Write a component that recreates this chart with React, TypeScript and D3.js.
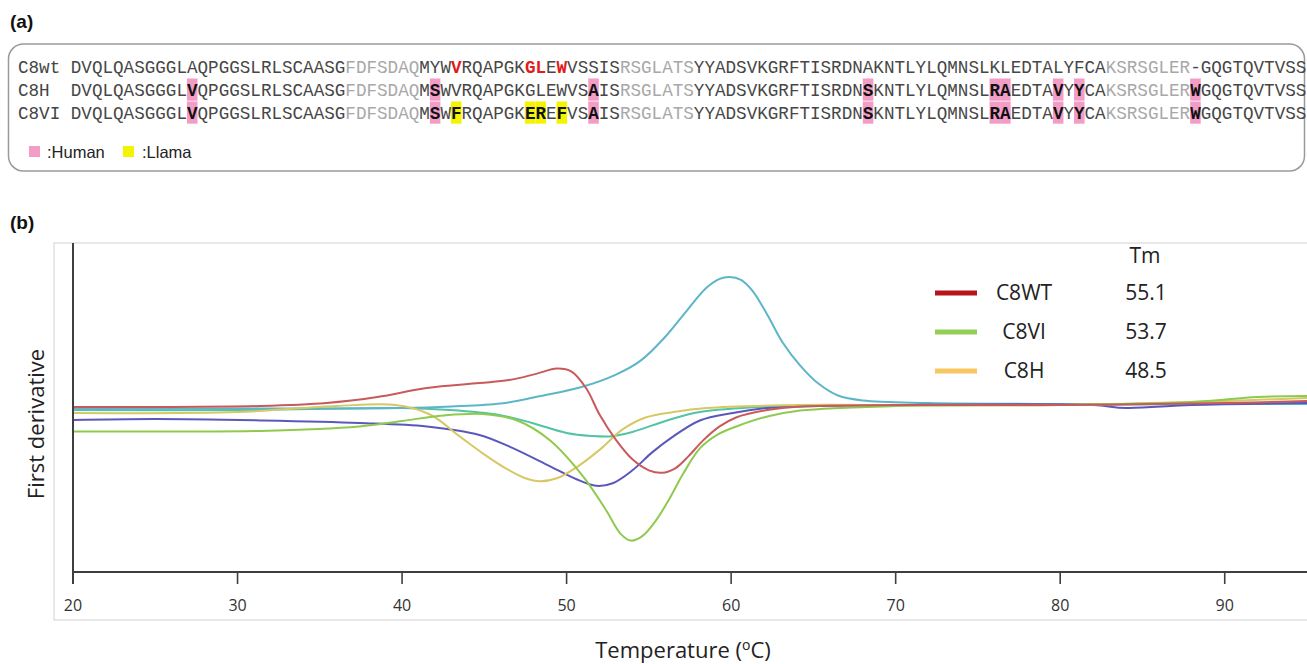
import React from 'react';
import * as d3 from 'd3';

const W = 1307;
const H = 664;

// ---------- Panel (a) data ----------
const seqLabels = ['C8wt', 'C8H', 'C8VI'];
const seqWT = 'DVQLQASGGGLAQPGGSLRLSCAASGFDFSDAQMYWVRQAPGKGLEWVSSISRSGLATSYYADSVKGRFTISRDNAKNTLYLQMNSLKLEDTALYFCAKSRSGLER-GQGTQVTVSS';
const seqH = 'DVQLQASGGGLVQPGGSLRLSCAASGFDFSDAQMSWVRQAPGKGLEWVSAISRSGLATSYYADSVKGRFTISRDNSKNTLYLQMNSLRAEDTAVYYCAKSRSGLERWGQGTQVTVSS';
const seqVI = 'DVQLQASGGGLVQPGGSLRLSCAASGFDFSDAQMSWFRQAPGKEREFVSAISRSGLATSYYADSVKGRFTISRDNSKNTLYLQMNSLRAEDTAVYYCAKSRSGLERWGQGTQVTVSS';
const greyRanges: [number, number][] = [[26, 32], [52, 58], [98, 105]];
const redWT = [36, 43, 44, 46];
const humanPos = [11, 34, 49, 75, 87, 88, 93, 95, 106];
const llamaPosVI = [36, 43, 44, 46];
const legendA = [':Human', ':Llama'];

// ---------- Panel (b) data: [temperature °C, first derivative (a.u.)] ----------
const c8wt: [number, number][] = [
  [20, 0.005], [25, 0.005], [31.4, 0.015], [35.4, 0.045], [38.5, 0.105], [41.5, 0.195],
  [44.7, 0.245], [46.5, 0.275], [48.2, 0.34], [49.4, 0.39], [50.3, 0.36], [51.2, 0.19],
  [52, -0.07], [53, -0.325], [54, -0.52], [55, -0.63], [55.8, -0.655], [56.6, -0.61],
  [57.4, -0.49], [58.3, -0.33], [59.3, -0.19], [60.3, -0.1], [62.2, -0.025], [64.2, 0.01],
  [70, 0.025], [80, 0.025], [90, 0.045], [95, 0.065],
];
const c8vi: [number, number][] = [
  [20, -0.24], [25, -0.24], [31.4, -0.235], [37.4, -0.19], [40, -0.135], [42.5, -0.08],
  [44.9, -0.065], [47, -0.13], [49, -0.33], [51, -0.69], [52.4, -1.03], [53.3, -1.27],
  [53.9, -1.335], [54.6, -1.29], [55.4, -1.14], [56.2, -0.93], [57.1, -0.66], [58.1, -0.41],
  [59.2, -0.27], [60.4, -0.185], [62.2, -0.09], [64.2, -0.03], [70, 0.015], [80, 0.025],
  [88, 0.055], [92, 0.105], [95, 0.115],
];
const c8h: [number, number][] = [
  [20, -0.055], [30, -0.045], [36, 0.015], [39.6, 0.025], [41.7, -0.07], [43.5, -0.29],
  [44.9, -0.46], [46.3, -0.61], [47.5, -0.71], [48.4, -0.74], [49.4, -0.71], [50.6, -0.6],
  [52, -0.425], [53.4, -0.22], [54.8, -0.1], [56.5, -0.045], [58.5, -0.005], [64.2, 0.025],
  [70, 0.025], [80, 0.025], [90, 0.065], [95, 0.095],
];
const cyanSeries: [number, number][] = [
  [20, -0.015], [30, -0.01], [40, -0.005], [43, 0.01], [46, 0.04], [48, 0.1], [51, 0.21],
  [53, 0.33], [54.5, 0.47], [56, 0.71], [57.3, 0.97], [58.5, 1.2], [59.3, 1.29], [59.9, 1.31],
  [60.6, 1.28], [61.3, 1.17], [62.2, 0.93], [63.1, 0.66], [64.2, 0.42], [65.3, 0.24],
  [66.5, 0.12], [68, 0.07], [72, 0.045], [80, 0.035], [90, 0.035], [95, 0.035],
];
const purpleSeries: [number, number][] = [
  [20, -0.125], [25, -0.115], [31.4, -0.13], [37.4, -0.155], [41.5, -0.19], [44.7, -0.275],
  [46.5, -0.39], [49, -0.59], [50.6, -0.72], [51.8, -0.785], [52.8, -0.76], [54, -0.63],
  [55.2, -0.45], [56.4, -0.3], [58.1, -0.13], [60.1, -0.055], [62.2, -0.005], [64.2, 0.01],
  [70, 0.025], [82, 0.025], [84, -0.005], [88, 0.025], [95, 0.045],
];
const tealSeries: [number, number][] = [
  [20, -0.025], [30, -0.025], [40, -0.005], [42.9, -0.025], [45.9, -0.075], [47.9, -0.155],
  [50, -0.255], [51.5, -0.285], [52.6, -0.29], [54, -0.245], [56.1, -0.13], [58.1, -0.045],
  [62.2, 0.01], [70, 0.025], [80, 0.025], [95, 0.045],
];

const seriesList = [
  { name: 'teal', data: tealSeries, color: '#52c3a6' },
  { name: 'cyan', data: cyanSeries, color: '#5cb6c6' },
  { name: 'purple', data: purpleSeries, color: '#5a58bb' },
  { name: 'C8H', data: c8h, color: '#d6c865' },
  { name: 'C8VI', data: c8vi, color: '#8fca4e' },
  { name: 'C8WT', data: c8wt, color: '#c85a5c' },
];

const legendNames = ['C8WT', 'C8VI', 'C8H'];
const legendTm = ['55.1', '53.7', '48.5'];
const legendColors = ['#b8141c', '#92cf55', '#f8c762'];
const xTicks = [20, 30, 40, 50, 60, 70, 80, 90];

export default function App() {
  // ---- panel (a) scales ----
  const cw = 10.56;
  const charX = d3.scaleLinear().domain([0, 1]).range([18, 18 + cw]);
  const seqStart = 5; // label column width in characters
  const rowY = d3.scalePoint<number>().domain([0, 1, 2]).range([67, 113]);
  const seqs = [seqWT, seqH, seqVI];
  const isGrey = (i: number) => greyRanges.some(([a, b]) => i >= a && i <= b);

  // ---- panel (b) scales ----
  const x = d3.scaleLinear().domain([20, 95]).range([73, 1307]);
  const y = d3.scaleLinear().domain([-1.65, 1.65]).range([572, 243]);
  const line = d3
    .line<[number, number]>()
    .x((d) => x(d[0]))
    .y((d) => y(d[1]))
    .curve(d3.curveCatmullRom.alpha(0.5));

  const cellH = 23;
  const legendRowY = d3.scalePoint<number>().domain([0, 1, 2]).range([293, 371]);

  return (
    <svg width={W} height={H} style={{ position: 'absolute', left: 0, top: 0, background: '#fff' }}>
      <rect x={0} y={0} width={W} height={H} fill="#fff" />
      {/* ---------------- (a) ---------------- */}
      <text x={10} y={28} fontFamily="Liberation Sans, Arial, sans-serif" fontWeight="bold" fontSize={19} fill="#111">(a)</text>
      <rect x={8.5} y={44} width={1296} height={127} rx={15} ry={15} fill="none" stroke="#9a9a9a" strokeWidth={1.5} />

      {/* highlight cells */}
      {[1, 2].map((r) =>
        humanPos.map((p) => (
          <rect key={`h${r}-${p}`} x={charX(seqStart + p)} y={rowY(r)! - cellH / 2} width={cw} height={cellH - 0.8} fill="#f39cc6" />
        ))
      )}
      {llamaPosVI.map((p) => (
        <rect key={`l-${p}`} x={charX(seqStart + p)} y={rowY(2)! - cellH / 2} width={cw} height={cellH - 0.8} fill="#f4f400" />
      ))}

      {seqs.map((s, r) => (
        <g key={`row${r}`} fontFamily="Liberation Mono, Courier New, monospace" fontSize={17.6}>
          <text x={charX(0)} y={rowY(r)} dy="0.36em" fill="#444">{seqLabels[r]}</text>
          {s.split('').map((ch, i) => {
            const isRed = r === 0 && redWT.includes(i);
            const isHum = r > 0 && humanPos.includes(i);
            const isLl = r === 2 && llamaPosVI.includes(i);
            const bold = isRed || isHum || isLl;
            const fill = isRed ? '#e21b1b' : bold ? '#111' : isGrey(i) ? '#a8a8a8' : '#474747';
            return (
              <text
                key={i}
                x={charX(seqStart + i + 0.5)}
                y={rowY(r)}
                dy="0.36em"
                textAnchor="middle"
                fill={fill}
                fontWeight={bold ? 'bold' : 'normal'}
              >
                {ch}
              </text>
            );
          })}
        </g>
      ))}

      {/* legend (a) */}
      <rect x={29} y={146} width={11} height={11} fill="#f39cc6" />
      <text x={47} y={158} fontFamily="Liberation Sans, Arial, sans-serif" fontSize={16.5} fill="#222">{legendA[0]}</text>
      <rect x={123} y={146} width={11} height={11} fill="#f4f400" />
      <text x={142} y={158} fontFamily="Liberation Sans, Arial, sans-serif" fontSize={16.5} fill="#222">{legendA[1]}</text>

      {/* ---------------- (b) ---------------- */}
      <text x={10} y={229} fontFamily="Liberation Sans, Arial, sans-serif" fontWeight="bold" fontSize={19} fill="#111">(b)</text>
      <rect x={54} y={243} width={1270} height={377} fill="none" stroke="#d9d9d9" strokeWidth={1.2} />

      {/* curves */}
      {seriesList.map((s) => (
        <path key={s.name} d={line(s.data) || ''} fill="none" stroke={s.color} strokeWidth={2} />
      ))}

      {/* axes */}
      <line x1={x(20)} x2={x(20)} y1={243} y2={584} stroke="#3f3f3f" strokeWidth={2} />
      <line x1={x(20)} x2={x(95)} y1={572} y2={572} stroke="#3f3f3f" strokeWidth={2} />
      {xTicks.map((t) => (
        <g key={t}>
          <line x1={x(t)} x2={x(t)} y1={572} y2={584} stroke="#3f3f3f" strokeWidth={1.6} />
          <text x={x(t)} y={611} textAnchor="middle" fontFamily="Open Sans, sans-serif" fontSize={16} fill="#333">{t}</text>
        </g>
      ))}

      <text
        transform={`translate(44,424) rotate(-90)`}
        textAnchor="middle"
        fontFamily="Open Sans, sans-serif"
        fontSize={22}
        fill="#222"
      >
        First derivative
      </text>
      <text x={683} y={658} textAnchor="middle" fontFamily="Open Sans, sans-serif" fontSize={22} fill="#222">
        Temperature (<tspan dy={-8} fontSize={14}>o</tspan><tspan dy={8}>C)</tspan>
      </text>

      {/* legend (b) */}
      <text x={1145} y={263} textAnchor="middle" fontFamily="Open Sans, sans-serif" fontSize={21} fill="#222">Tm</text>
      {legendNames.map((n, i) => (
        <g key={n}>
          <line x1={935} x2={977} y1={legendRowY(i)} y2={legendRowY(i)} stroke={legendColors[i]} strokeWidth={5} />
          <text x={1024} y={legendRowY(i)} dy="0.35em" textAnchor="middle" fontFamily="Open Sans, sans-serif" fontSize={21} fill="#222">{n}</text>
          <text x={1146} y={legendRowY(i)} dy="0.35em" textAnchor="middle" fontFamily="Open Sans, sans-serif" fontSize={21} fill="#222">{legendTm[i]}</text>
        </g>
      ))}
    </svg>
  );
}
